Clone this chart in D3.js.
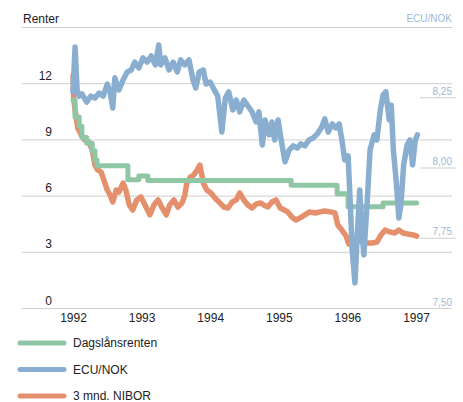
<!DOCTYPE html>
<html>
<head>
<meta charset="utf-8">
<script src="https://cdn.jsdelivr.net/npm/d3@7"></script>
<style>
  body { margin: 0; background: #fff; }
  svg { display: block; font-family: "Liberation Sans", Arial, sans-serif; }
</style>
</head>
<body>
<svg id="chart" width="463" height="402"></svg>
<script>
"use strict";

// x axis years and tick values
const years = [1992, 1993, 1994, 1995, 1996, 1997];
const leftTicks = [0, 3, 6, 9, 12, 15];
const rightTicks = [7.5, 7.75, 8.0, 8.25];

// ECU/NOK (right axis)
const ecuDates = [1992.00,1992.03,1992.06,1992.09,1992.13,1992.20,1992.26,1992.32,1992.38,1992.44,
  1992.50,1992.54,1992.58,1992.61,1992.67,1992.73,1992.79,1992.85,1992.90,1992.96,
  1993.02,1993.08,1993.14,1993.20,1993.25,1993.28,1993.34,1993.40,1993.46,1993.52,
  1993.57,1993.63,1993.69,1993.75,1993.79,1993.84,1993.90,1993.94,1994.00,1994.06,
  1994.11,1994.17,1994.22,1994.27,1994.33,1994.38,1994.43,1994.49,1994.55,1994.61,
  1994.67,1994.71,1994.76,1994.80,1994.86,1994.90,1994.94,1994.99,1995.03,1995.09,
  1995.15,1995.21,1995.27,1995.32,1995.38,1995.44,1995.50,1995.56,1995.62,1995.67,
  1995.72,1995.78,1995.83,1995.88,1995.92,1995.96,1996.01,1996.04,1996.07,1996.11,
  1996.14,1996.18,1996.21,1996.24,1996.29,1996.33,1996.39,1996.43,1996.48,1996.52,
  1996.56,1996.61,1996.64,1996.67,1996.71,1996.75,1996.78,1996.82,1996.87,1996.91,
  1996.95,1996.99,1997.02];
const ecuValues = [8.269,8.429,8.276,8.254,8.262,8.233,8.254,8.247,8.265,8.254,
  8.297,8.269,8.212,8.319,8.276,8.311,8.340,8.347,8.375,8.354,
  8.390,8.375,8.397,8.365,8.436,8.365,8.390,8.347,8.375,8.340,
  8.383,8.365,8.383,8.311,8.283,8.340,8.347,8.297,8.304,8.276,
  8.254,8.126,8.247,8.269,8.205,8.240,8.198,8.240,8.219,8.198,
  8.162,8.198,8.080,8.169,8.116,8.162,8.098,8.169,8.105,8.020,
  8.062,8.077,8.069,8.084,8.077,8.098,8.105,8.119,8.141,8.173,
  8.126,8.155,8.141,8.155,8.098,8.027,8.041,7.884,7.706,7.589,
  7.742,7.920,7.778,7.689,7.884,8.062,8.116,8.098,8.205,8.258,
  8.269,8.169,8.222,8.062,7.956,7.820,7.867,8.009,8.080,8.098,
  8.009,8.098,8.116];

// 3 mnd. NIBOR (left axis)
const niborDates = [1992.00,1992.01,1992.03,1992.07,1992.12,1992.17,1992.23,1992.28,1992.32,1992.36,
  1992.41,1992.45,1992.50,1992.54,1992.58,1992.63,1992.67,1992.73,1992.77,1992.82,
  1992.87,1992.93,1992.99,1993.05,1993.12,1993.18,1993.24,1993.30,1993.36,1993.41,
  1993.47,1993.53,1993.59,1993.63,1993.66,1993.71,1993.76,1993.81,1993.85,1993.90,
  1993.95,1994.01,1994.07,1994.14,1994.20,1994.26,1994.32,1994.38,1994.43,1994.49,
  1994.55,1994.61,1994.67,1994.73,1994.78,1994.84,1994.90,1994.96,1995.02,1995.08,
  1995.13,1995.19,1995.25,1995.31,1995.38,1995.45,1995.53,1995.60,1995.67,1995.75,
  1995.82,1995.86,1995.92,1995.98,1996.02,1996.08,1996.14,1996.21,1996.29,1996.36,
  1996.43,1996.49,1996.55,1996.62,1996.69,1996.75,1996.81,1996.88,1996.96,1997.01];
const niborValues = [12.4,11.2,10.57,9.61,9.24,8.97,8.86,8.44,7.63,7.37,
  7.26,6.83,6.30,6.03,5.66,6.30,6.19,6.67,6.30,5.50,
  5.23,5.77,5.93,5.50,4.97,5.50,5.77,5.34,4.97,5.50,
  5.77,5.39,5.61,6.03,6.67,6.99,7.10,7.37,7.63,6.67,
  6.30,6.14,5.87,5.61,5.39,5.34,5.66,5.77,6.14,5.77,
  5.50,5.34,5.55,5.61,5.50,5.39,5.66,5.77,5.34,5.23,
  5.13,4.86,4.70,4.81,4.97,5.13,5.07,5.13,5.18,5.13,
  5.07,4.43,4.16,3.84,3.42,3.63,3.74,3.52,3.47,3.47,
  3.52,3.90,4.16,4.06,4.00,4.16,4.00,3.95,3.90,3.84];

// Dagslånsrenten (left axis, step series)
const dagsDates = [1992.00,1992.03,1992.09,1992.13,1992.20,1992.28,1992.32,1992.35,1992.80,1992.96,
  1993.09,1995.18,1995.85,1996.01,1996.52,1997.01];
const dagsValues = [11.1,10.2,9.7,9.1,8.8,8.4,7.9,7.6,6.85,7.05,
  6.8,6.55,6.1,5.4,5.6,5.6];

const seriesNames = ["Dagslånsrenten", "ECU/NOK", "3 mnd. NIBOR"];
const seriesColors = ["#8ec6a6", "#8aaed0", "#e5906d"];

let svg = d3.select("#chart");

let x = d3.scaleLinear().domain([1992, 1997]).range([73, 416]);
let yL = d3.scaleLinear().domain([0, 15]).range([308, 27]);
let yR = d3.scaleLinear().domain([7.5, 8.5]).range([308, 27]);

// left axis doubles as gridlines
let gLeft = svg.append("g").attr("transform", "translate(22,0)")
  .call(d3.axisLeft(yL).tickValues(leftTicks).tickSize(-430)
    .tickFormat(d => d === 15 ? "" : d));
gLeft.select(".domain").remove();
gLeft.selectAll(".tick line").attr("stroke", "#cfcfcf");
gLeft.selectAll(".tick text")
  .attr("x", 30).attr("dy", "-0.32em")
  .attr("fill", "#222").attr("font-size", 12);

// right axis: short ticks and light blue labels
let gRight = svg.append("g").attr("transform", "translate(420,0)")
  .call(d3.axisRight(yR).tickValues(rightTicks).tickSize(36)
    .tickFormat(d => d3.format(".2f")(d).replace(".", ",")));
gRight.select(".domain").remove();
gRight.selectAll(".tick line").attr("stroke", "#cfcfcf")
  .filter(d => d === 7.5).remove();
gRight.selectAll(".tick text")
  .attr("x", 32).attr("dy", "-0.3em").attr("text-anchor", "end")
  .attr("fill", "#9db8d6").attr("font-size", 10);

// bottom axis, labels only
let gBottom = svg.append("g").attr("transform", "translate(0,308)")
  .call(d3.axisBottom(x).tickValues(years).tickSize(0).tickPadding(5)
    .tickFormat(d3.format("d")));
gBottom.select(".domain").remove();
gBottom.selectAll(".tick text").attr("fill", "#222").attr("font-size", 12);

svg.append("text").attr("x", 23).attr("y", 23)
  .attr("fill", "#222").attr("font-size", 12).text("Renter");
svg.append("text").attr("x", 452).attr("y", 22).attr("text-anchor", "end")
  .attr("fill", "#9db8d6").attr("font-size", 10).text("ECU/NOK");

// lines
let lineL = d3.line().x(d => x(d[0])).y(d => yL(d[1]));
let lineR = d3.line().x(d => x(d[0])).y(d => yR(d[1]));
let stepL = d3.line().x(d => x(d[0])).y(d => yL(d[1])).curve(d3.curveStepAfter);

svg.append("path")
  .datum(d3.zip(niborDates, niborValues))
  .attr("d", lineL).attr("fill", "none")
  .attr("stroke", seriesColors[2]).attr("stroke-width", 5.5)
  .attr("stroke-linejoin", "round").attr("stroke-linecap", "round");

svg.append("path")
  .datum(d3.zip(dagsDates, dagsValues))
  .attr("d", stepL).attr("fill", "none")
  .attr("stroke", seriesColors[0]).attr("stroke-width", 5)
  .attr("stroke-linejoin", "round").attr("stroke-linecap", "round");

svg.append("path")
  .datum(d3.zip(ecuDates, ecuValues))
  .attr("d", lineR).attr("fill", "none")
  .attr("stroke", seriesColors[1]).attr("stroke-width", 5.5)
  .attr("stroke-linejoin", "round").attr("stroke-linecap", "round");

// legend
let legend = svg.append("g").selectAll("g")
  .data(seriesNames).join("g")
  .attr("transform", (d, i) => `translate(0,${343 + i * 26.5})`);
legend.append("line")
  .attr("x1", 20).attr("x2", 64)
  .attr("stroke", (d, i) => seriesColors[i]).attr("stroke-width", 5)
  .attr("stroke-linecap", "round");
legend.append("text")
  .attr("x", 73).attr("dy", "0.35em")
  .attr("fill", "#222").attr("font-size", 12)
  .text(d => d);
</script>
</body>
</html>
